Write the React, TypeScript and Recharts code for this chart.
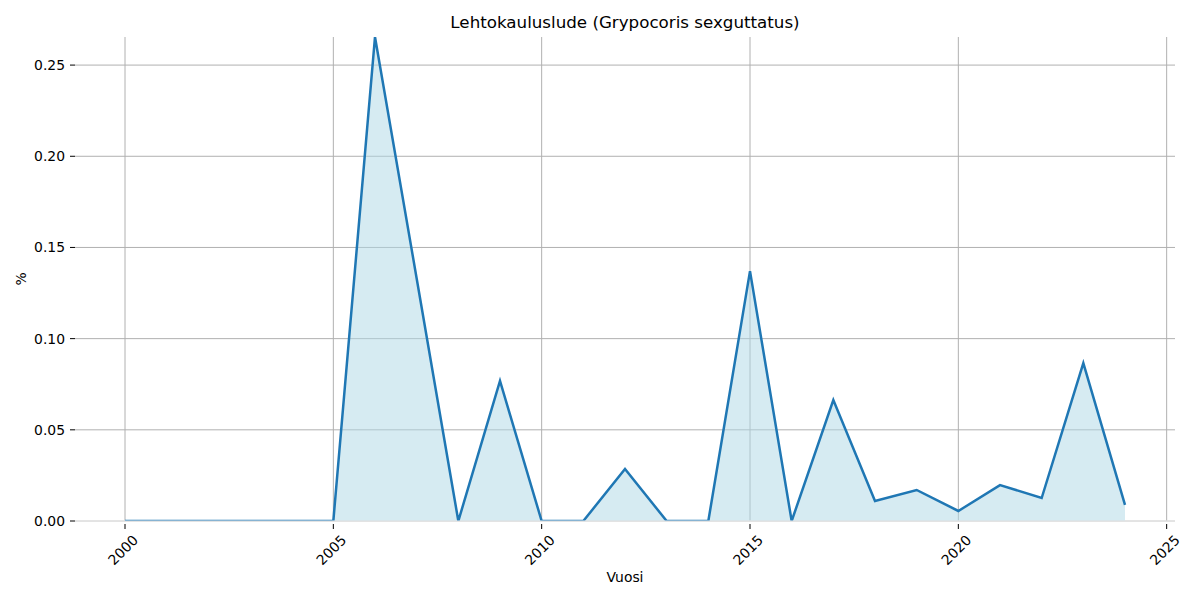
import { Area, CartesianGrid, ComposedChart, Line, XAxis, YAxis } from "recharts";

const years = [
  2000, 2001, 2002, 2003, 2004, 2005, 2006, 2007, 2008, 2009, 2010, 2011, 2012,
  2013, 2014, 2015, 2016, 2017, 2018, 2019, 2020, 2021, 2022, 2023, 2024,
];

// share (%) per year
const shares = [
  0, 0, 0, 0, 0, 0, 0.2654, 0.133, 0, 0.0768, 0, 0, 0.0285,
  0, 0, 0.137, 0, 0.0663, 0.011, 0.017, 0.0055, 0.0197, 0.0126, 0.0866, 0.0088,
];

const xTicks = [2000, 2005, 2010, 2015, 2020, 2025];
const yTicks = [0, 0.05, 0.1, 0.15, 0.2, 0.25];
const xDomain: [number, number] = [1998.8, 2025.2];
const yDomain: [number, number] = [0, 0.2654];

const data = years.map((year, i) => ({ year, v: shares[i] }));

const FONT = "'DejaVu Sans', sans-serif";

function XTick(props: any) {
  const { x, y, payload } = props;
  return (
    <g>
      <line x1={x} x2={x} y1={y - 5} y2={y} stroke="#000" strokeWidth={1} />
      <text
        x={x - 2}
        y={y + 21}
        transform={`rotate(-45 ${x - 2} ${y + 21})`}
        textAnchor="middle"
        dominantBaseline="central"
        fontSize={13.9}
        fontFamily={FONT}
        fill="#000"
      >
        {payload.value}
      </text>
    </g>
  );
}

// grid lines only at the tick positions, no frame
const gridX = ({ offset }: any) =>
  xTicks.map(
    (t) => offset.left + ((t - xDomain[0]) / (xDomain[1] - xDomain[0])) * offset.width
  );
const gridY = ({ offset }: any) =>
  yTicks.map(
    (t) => offset.top + offset.height - ((t - yDomain[0]) / (yDomain[1] - yDomain[0])) * offset.height
  );

export default function App() {
  return (
    <div
      style={{
        position: "absolute",
        left: 0,
        top: 0,
        width: 1200,
        height: 600,
        background: "#fff",
        fontFamily: FONT,
      }}
    >
      <div
        style={{
          position: "absolute",
          top: 12,
          left: 75,
          width: 1100,
          textAlign: "center",
          fontSize: 16.7,
          lineHeight: "20px",
        }}
      >
        Lehtokauluslude (Grypocoris sexguttatus)
      </div>
      <div
        style={{
          position: "absolute",
          top: 568,
          left: 75,
          width: 1100,
          textAlign: "center",
          fontSize: 13.9,
          lineHeight: "18px",
        }}
      >
        Vuosi
      </div>
      <div
        style={{
          position: "absolute",
          left: 12,
          top: 270,
          width: 18,
          height: 18,
          lineHeight: "18px",
          textAlign: "center",
          fontSize: 13.9,
          transform: "rotate(-90deg)",
        }}
      >
        %
      </div>
      <ComposedChart
        width={1200}
        height={600}
        data={data}
        margin={{ top: 37, right: 25, bottom: 0, left: 15 }}
      >
        <CartesianGrid
          stroke="#b0b0b0"
          strokeWidth={1}
          verticalCoordinatesGenerator={gridX}
          horizontalCoordinatesGenerator={gridY}
        />
        <XAxis
          dataKey="year"
          type="number"
          domain={xDomain}
          ticks={xTicks}
          allowDataOverflow
          height={79}
          axisLine={{ stroke: "#f0f0f0" }}
          tickLine={false}
          tick={<XTick />}
          interval={0}
        />
        <YAxis
          type="number"
          domain={yDomain}
          ticks={yTicks}
          allowDataOverflow
          width={60}
          axisLine={false}
          tickSize={5}
          tickMargin={5}
          tickLine={{ stroke: "#000" }}
          tickFormatter={(v: number) => v.toFixed(2)}
          tick={{ fontSize: 13.9, fontFamily: FONT, fill: "#000" }}
          interval={0}
        />
        <Area
          dataKey="v"
          type="linear"
          stroke="none"
          fill="#add8e6"
          fillOpacity={0.5}
          isAnimationActive={false}
        />
        <Line
          dataKey="v"
          type="linear"
          stroke="#1f77b4"
          strokeWidth={2.5}
          dot={false}
          isAnimationActive={false}
        />
      </ComposedChart>
    </div>
  );
}
